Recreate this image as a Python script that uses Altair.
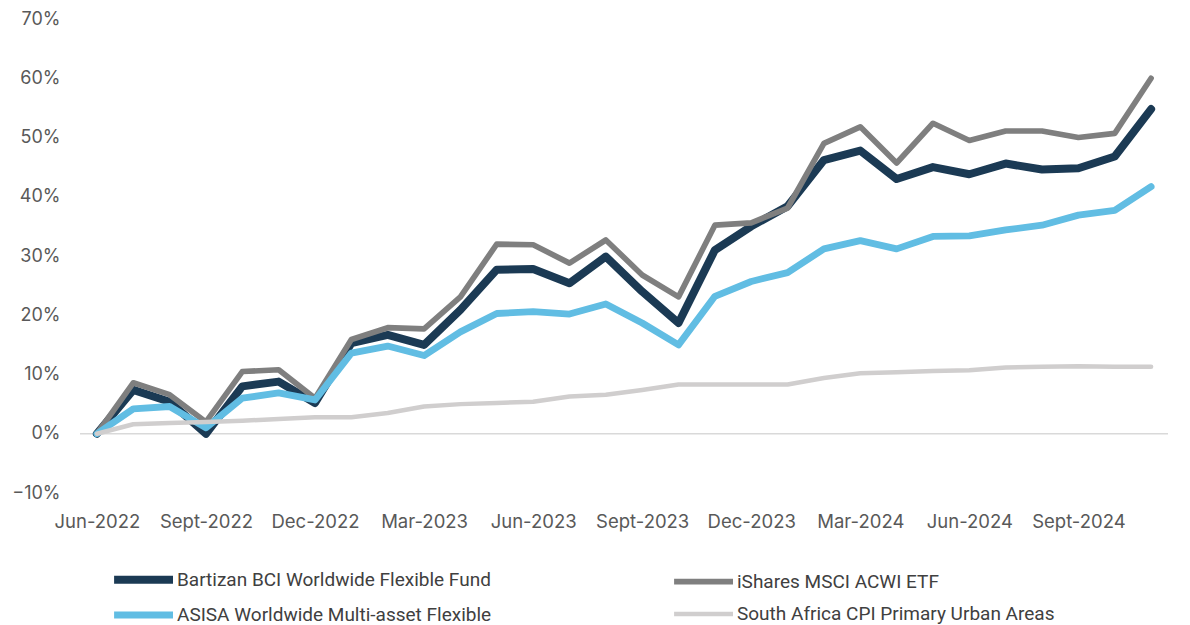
import altair as alt
import pandas as pd

months = [
    "Jun-2022", "Jul-2022", "Aug-2022", "Sept-2022", "Oct-2022", "Nov-2022",
    "Dec-2022", "Jan-2023", "Feb-2023", "Mar-2023", "Apr-2023", "May-2023",
    "Jun-2023", "Jul-2023", "Aug-2023", "Sept-2023", "Oct-2023", "Nov-2023",
    "Dec-2023", "Jan-2024", "Feb-2024", "Mar-2024", "Apr-2024", "May-2024",
    "Jun-2024", "Jul-2024", "Aug-2024", "Sept-2024", "Oct-2024", "Nov-2024",
]

series_names = [
    "Bartizan BCI Worldwide Flexible Fund",
    "iShares MSCI ACWI ETF",
    "ASISA Worldwide Multi-asset Flexible",
    "South Africa CPI Primary Urban Areas",
]

bartizan = [0.0, 7.4, 5.4, 0.0, 8.0, 8.8, 5.2, 15.3, 16.7, 15.0, 20.9, 27.7,
            27.8, 25.4, 29.9, 24.0, 18.7, 31.0, 35.0, 38.4, 46.2, 47.8, 43.0,
            45.0, 43.8, 45.6, 44.6, 44.8, 46.8, 54.8]
ishares = [0.0, 8.6, 6.6, 2.0, 10.5, 10.8, 6.0, 15.9, 17.9, 17.7, 23.1, 32.0,
           31.9, 28.8, 32.7, 26.8, 23.1, 35.2, 35.6, 38.1, 49.0, 51.8, 45.7,
           52.4, 49.5, 51.1, 51.1, 50.0, 50.7, 60.0]
asisa = [0.0, 4.2, 4.6, 1.0, 6.0, 6.9, 5.7, 13.6, 14.8, 13.2, 17.2, 20.3,
         20.6, 20.2, 21.9, 18.7, 15.0, 23.2, 25.7, 27.2, 31.2, 32.6, 31.2,
         33.3, 33.4, 34.4, 35.2, 36.9, 37.7, 41.7]
cpi = [0.0, 1.6, 1.8, 2.0, 2.2, 2.5, 2.8, 2.8, 3.5, 4.6, 5.0, 5.2, 5.4, 6.3,
       6.6, 7.4, 8.3, 8.3, 8.3, 8.3, 9.4, 10.2, 10.4, 10.6, 10.7, 11.2, 11.3,
       11.4, 11.3, 11.3]

y_ticks = [-0.1, 0.0, 0.1, 0.2, 0.3, 0.4, 0.5, 0.6, 0.7]

colors = {
    series_names[0]: "#1B3A54",
    series_names[1]: "#7F7F7F",
    series_names[2]: "#61BDE3",
    series_names[3]: "#D0CECE",
}
widths = {
    series_names[0]: 8,
    series_names[1]: 5,
    series_names[2]: 4.5,
    series_names[3]: 4.5,
}
# legend lists column by column: left column first, then right column
legend_order = [series_names[0], series_names[2], series_names[1], series_names[3]]

rows = []
for s, vals in zip(series_names, [bartizan, ishares, asisa, cpi]):
    for m, v in zip(months, vals):
        rows.append({"month": m, "series": s, "value": v / 100.0})
df = pd.DataFrame(rows)

FONT = "Inter, Roboto, sans-serif"
LEGEND_FONT = "Roboto, sans-serif"

x_enc = alt.X(
    "month:O",
    sort=months,
    scale=alt.Scale(type="point", padding=0.465),
    axis=alt.Axis(
        values=months[::3], title=None, labelAngle=0, domain=False, ticks=False,
        labelFont=FONT, labelFontSize=18.5, labelColor="#595959", labelPadding=19,
    ),
)
y_enc = alt.Y(
    "value:Q",
    scale=alt.Scale(domain=[-0.1, 0.7], nice=False, zero=False),
    axis=alt.Axis(
        values=y_ticks, format=".0%", grid=False, domain=False, ticks=False,
        title=None, labelFont=FONT, labelFontSize=18, labelColor="#595959",
        labelPadding=20,
    ),
)
color_enc = alt.Color(
    "series:N",
    scale=alt.Scale(domain=legend_order, range=[colors[s] for s in legend_order]),
    legend=alt.Legend(
        title=None, orient="none", legendX=32, legendY=547, columns=2,
        symbolType="M-1.2,0H5", symbolSize=361, labelFont=LEGEND_FONT,
        labelFontSize=19, labelColor="#404040", columnPadding=170,
        rowPadding=5, labelLimit=600, labelOffset=38, padding=0,
    ),
)
sw_enc = alt.StrokeWidth(
    "series:N",
    scale=alt.Scale(domain=legend_order, range=[widths[s] for s in legend_order]),
)

zero_rule = alt.Chart(pd.DataFrame({"z": [0.0]})).mark_rule(
    color="#D9D9D9", strokeWidth=1.5
).encode(y=alt.Y("z:Q"))

layers = [zero_rule]
for s in series_names:
    layers.append(
        alt.Chart(df)
        .transform_filter(alt.datum.series == s)
        .mark_line(strokeCap="round", strokeJoin="round")
        .encode(x=x_enc, y=y_enc, color=color_enc, strokeWidth=sw_enc)
    )

chart = (
    alt.layer(*layers)
    .properties(
        width=1088, height=474,
        autosize=alt.AutoSizeParams(type="none"),
        padding={"left": 80, "top": 19, "right": 22, "bottom": 132},
        background="white",
    )
    .configure_view(stroke=None)
)

chart.save("out.html", embed_options={"renderer": "svg", "actions": False})
